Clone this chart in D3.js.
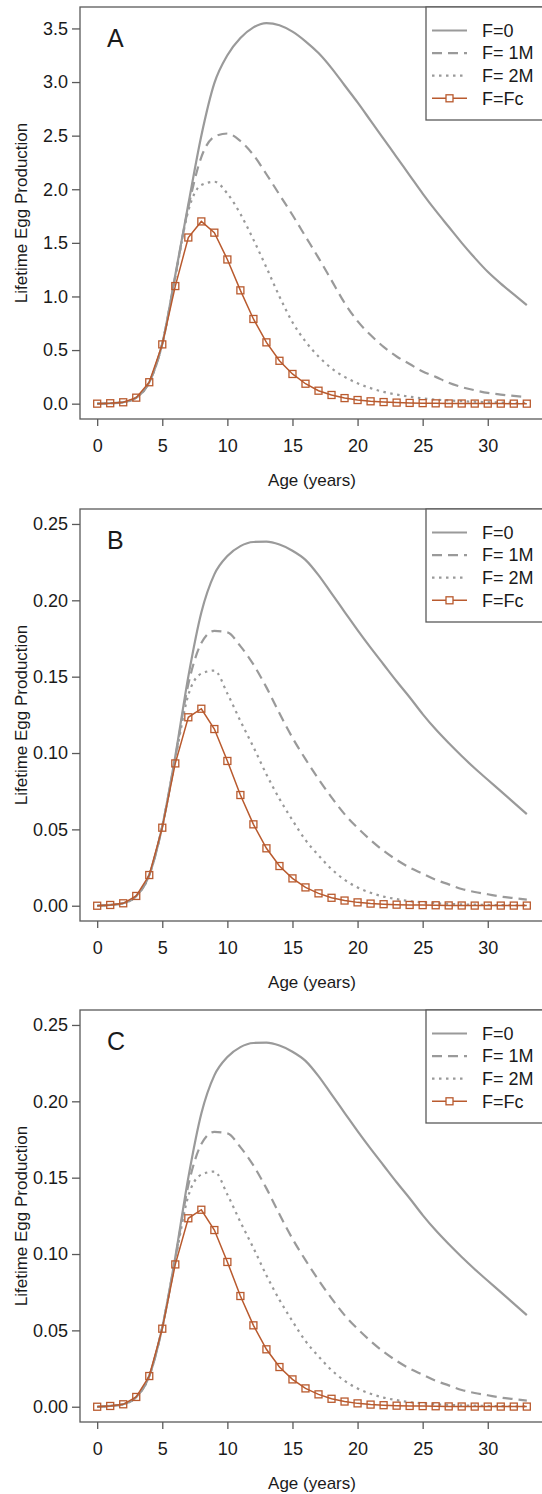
<!DOCTYPE html>
<html lang="en">
<head>
<meta charset="UTF-8">
<title>Lifetime Egg Production by Age</title>
<script src="https://d3js.org/d3.v7.min.js"></script>
<style>
    body { margin: 0; background: #fff; }
    svg text { font-family: "Liberation Sans", Arial, sans-serif; fill: #1a1a1a; }
</style>
</head>
<body>
<div id="chart"></div>
<script>
    // ages 0..33
    const ages = [0, 1, 2, 3, 4, 5, 6, 7, 8, 9, 10, 11, 12, 13, 14, 15, 16,
                  17, 18, 19, 20, 21, 22, 23, 24, 25, 26, 27, 28, 29, 30, 31, 32, 33];

    // panel A
    const aF0 = [0, 0.004, 0.013, 0.056, 0.2, 0.56, 1.2, 1.86, 2.5, 2.99, 3.25, 3.41, 3.51, 3.55, 3.53, 3.47, 3.38,
                 3.27, 3.13, 2.97, 2.81, 2.64, 2.47, 2.30, 2.13, 1.96, 1.80, 1.65, 1.50, 1.36, 1.23, 1.12, 1.02, 0.92];
    const aF1M = [0, 0.004, 0.013, 0.056, 0.2, 0.56, 1.19, 1.83, 2.3, 2.49, 2.52, 2.45, 2.32, 2.14, 1.95, 1.76, 1.56,
                  1.36, 1.15, 0.94, 0.77, 0.64, 0.53, 0.44, 0.37, 0.30, 0.25, 0.195, 0.155, 0.125, 0.10, 0.085, 0.072, 0.062];
    const aF2M = [0, 0.004, 0.013, 0.056, 0.2, 0.56, 1.18, 1.80, 2.04, 2.07, 1.96, 1.77, 1.53, 1.27, 1.0, 0.76, 0.58,
                  0.44, 0.33, 0.25, 0.19, 0.145, 0.11, 0.085, 0.065, 0.05, 0.038, 0.03, 0.023, 0.018, 0.014, 0.011, 0.009, 0.007];
    const aFc = [0, 0.004, 0.013, 0.056, 0.2, 0.553, 1.097, 1.55, 1.70, 1.595, 1.345, 1.057, 0.79, 0.572, 0.40, 0.277, 0.186,
                 0.121, 0.081, 0.052, 0.034, 0.022, 0.015, 0.01, 0.007, 0.005, 0.003, 0.002, 0.0015, 0.001, 0.0007, 0.0005, 0.0003, 0.0002];

    // panel B (panel C shows the same curves)
    const bF0 = [0, 0.0005, 0.0016, 0.0064, 0.0201, 0.052, 0.098, 0.150, 0.192, 0.217, 0.229, 0.2355, 0.2382, 0.2384, 0.2365, 0.2325, 0.2265,
                 0.2165, 0.2045, 0.1925, 0.1805, 0.169, 0.158, 0.147, 0.1365, 0.1255, 0.1155, 0.1065, 0.098, 0.090, 0.0825, 0.075, 0.0675, 0.060];
    const bF1M = [0, 0.0005, 0.0016, 0.0064, 0.0201, 0.052, 0.097, 0.145, 0.172, 0.180, 0.179, 0.170, 0.158, 0.143, 0.126, 0.110, 0.096,
                  0.083, 0.071, 0.060, 0.051, 0.043, 0.036, 0.030, 0.025, 0.021, 0.017, 0.014, 0.011, 0.009, 0.0075, 0.006, 0.005, 0.004];
    const bF2M = [0, 0.0005, 0.0016, 0.0064, 0.0201, 0.052, 0.096, 0.138, 0.152, 0.154, 0.139, 0.121, 0.104, 0.086, 0.070, 0.056, 0.043,
                  0.033, 0.024, 0.017, 0.012, 0.0085, 0.006, 0.0043, 0.003, 0.0022, 0.0016, 0.0012, 0.0009, 0.0007, 0.0005, 0.0004, 0.0003, 0.0002];
    const bFc = [0, 0.0005, 0.0016, 0.0064, 0.0201, 0.0511, 0.0932, 0.1234, 0.129, 0.1157, 0.0948, 0.0725, 0.0533, 0.0376, 0.026, 0.0179, 0.012,
                 0.0081, 0.0052, 0.0034, 0.0022, 0.0014, 0.001, 0.0007, 0.0005, 0.0004, 0.0003, 0.0002, 0.00015, 0.0001, 0.0001, 0.0001, 0.0001, 0.0001];

    const xTicks = [0, 5, 10, 15, 20, 25, 30];
    const aYTicks = [0, 0.5, 1.0, 1.5, 2.0, 2.5, 3.0, 3.5];
    const bYTicks = [0, 0.05, 0.10, 0.15, 0.20, 0.25];
    const legendLabels = ["F=0", "F= 1M", "F= 2M", "F=Fc"];

    const panels = [
        {letter: "A", series: [aF0, aF1M, aF2M, aFc], ticks: aYTicks, ylim: [-0.143, 3.70], fmt: d3.format(".1f")},
        {letter: "B", series: [bF0, bF1M, bF2M, bFc], ticks: bYTicks, ylim: [-0.010, 0.2598], fmt: d3.format(".2f")},
        {letter: "C", series: [bF0, bF1M, bF2M, bFc], ticks: bYTicks, ylim: [-0.010, 0.2598], fmt: d3.format(".2f")}
    ];

    const W = 542, H = 1494;
    const panelStep = 501.5;
    const plot = {left: 80, right: 544, top: 7, bottom: 419};

    const gray = "#9a9a9a", boxCol = "#5a5a5a", fcCol = "#b95a2e";
    const styles = [
        {dash: null, width: 2.2},
        {dash: "10 6", width: 2.2},
        {dash: "2.5 4.5", width: 2.2}
    ];

    const svg = d3.select("#chart").append("svg")
        .attr("width", W).attr("height", H);
    svg.append("rect").attr("width", W).attr("height", H).attr("fill", "#fff");

    const x = d3.scaleLinear().domain([-1.32, 34.32]).range([plot.left, plot.right]);

    panels.forEach((p, pi) => {
        const g = svg.append("g").attr("transform", `translate(0,${Math.round(pi * panelStep)})`);
        const y = d3.scaleLinear().domain(p.ylim).range([plot.bottom, plot.top]);

        // axes
        const ya = g.append("g").attr("transform", `translate(${plot.left},0)`)
            .call(d3.axisLeft(y).tickValues(p.ticks).tickFormat(p.fmt).tickSize(8).tickPadding(4));
        const xa = g.append("g").attr("transform", `translate(0,${plot.bottom})`)
            .call(d3.axisBottom(x).tickValues(xTicks).tickSize(7).tickPadding(13));
        [ya, xa].forEach(a => {
            a.select(".domain").remove();
            a.selectAll("line").attr("stroke", boxCol).attr("stroke-width", 1.3);
            a.selectAll("text").attr("font-size", 18).attr("fill", "#1a1a1a");
        });

        // curves
        const smooth = d3.line().x((d, i) => x(ages[i])).y(d => y(d)).curve(d3.curveMonotoneX);
        p.series.slice(0, 3).forEach((s, si) => {
            g.append("path").datum(s)
                .attr("d", smooth)
                .attr("fill", "none")
                .attr("stroke", gray)
                .attr("stroke-width", styles[si].width)
                .attr("stroke-dasharray", styles[si].dash);
        });

        const fc = p.series[3];
        const straight = d3.line().x((d, i) => x(ages[i])).y(d => y(d));
        g.append("path").datum(fc)
            .attr("d", straight)
            .attr("fill", "none")
            .attr("stroke", fcCol)
            .attr("stroke-width", 1.5);
        g.selectAll(".sq").data(fc).enter().append("rect")
            .attr("class", "sq")
            .attr("x", (d, i) => x(ages[i]) - 3.5)
            .attr("y", d => y(d) - 3.5)
            .attr("width", 7).attr("height", 7)
            .attr("fill", "none")
            .attr("stroke", fcCol)
            .attr("stroke-width", 1.3);

        // box
        g.append("rect")
            .attr("x", plot.left).attr("y", plot.top)
            .attr("width", plot.right - plot.left).attr("height", plot.bottom - plot.top)
            .attr("fill", "none").attr("stroke", boxCol).attr("stroke-width", 1.3);

        // legend
        const lg = g.append("g");
        lg.append("rect").attr("x", 426).attr("y", plot.top)
            .attr("width", plot.right - 426).attr("height", 113)
            .attr("fill", "#fff").attr("stroke", boxCol).attr("stroke-width", 1.3);
        legendLabels.forEach((lab, li) => {
            const ly = 30.5 + li * 22.6;
            if (li < 3) {
                lg.append("line").attr("x1", 432).attr("x2", 467).attr("y1", ly).attr("y2", ly)
                    .attr("stroke", gray).attr("stroke-width", 2.2)
                    .attr("stroke-dasharray", styles[li].dash);
            } else {
                lg.append("line").attr("x1", 432).attr("x2", 467).attr("y1", ly).attr("y2", ly)
                    .attr("stroke", fcCol).attr("stroke-width", 1.5);
                lg.append("rect").attr("x", 449.5 - 3.5).attr("y", ly - 3.5)
                    .attr("width", 7).attr("height", 7)
                    .attr("fill", "#fff").attr("stroke", fcCol).attr("stroke-width", 1.3);
            }
            lg.append("text").attr("x", 482).attr("y", ly).attr("dy", "0.35em")
                .attr("font-size", 18).text(lab);
        });

        // panel letter
        g.append("text").attr("x", 107).attr("y", 47)
            .attr("font-size", 25).text(p.letter);

        // axis titles
        g.append("text")
            .attr("x", (plot.left + plot.right) / 2).attr("y", 485.5)
            .attr("text-anchor", "middle").attr("font-size", 17)
            .text("Age (years)");
        g.append("text")
            .attr("transform", `translate(27,${(plot.top + plot.bottom) / 2}) rotate(-90)`)
            .attr("text-anchor", "middle").attr("font-size", 17)
            .text("Lifetime Egg Production");
    });
</script>
</body>
</html>
